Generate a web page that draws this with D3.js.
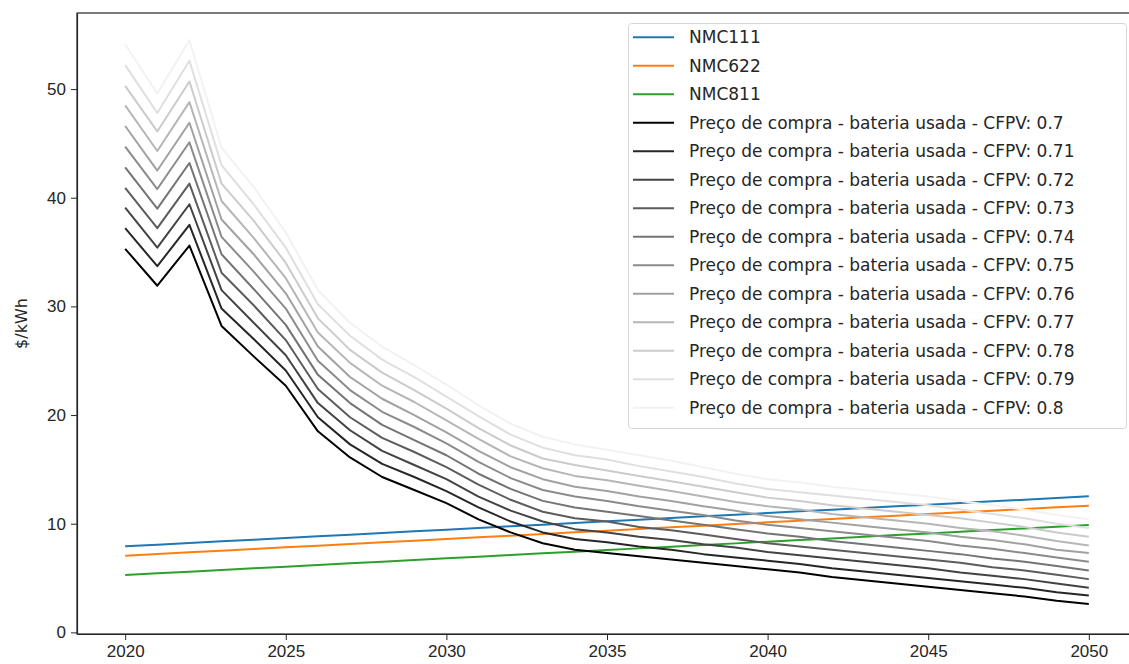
<!DOCTYPE html>
<html>
<head>
<meta charset="utf-8">
<script src="https://cdn.jsdelivr.net/npm/d3@7"></script>
<style>
  body { margin: 0; background: #fff; }
  svg { font-family: "DejaVu Sans", sans-serif; }
  .tick text { font-size: 17px; fill: #262626; }
  .tick line, .domain { stroke: #262626; }
</style>
</head>
<body>
<div id="chart"></div>
<script>
// years on the x axis
var years = d3.range(2020, 2051);

// new battery prices ($/kWh)
var nmc111 = [7.92, 8.07, 8.23, 8.38, 8.53, 8.69, 8.84, 8.99, 9.15, 9.30, 9.45, 9.61, 9.76, 9.91, 10.07, 10.22,
  10.37, 10.53, 10.68, 10.83, 10.99, 11.14, 11.29, 11.45, 11.60, 11.75, 11.91, 12.06, 12.21, 12.37, 12.52];
var nmc622 = [7.06, 7.21, 7.37, 7.52, 7.67, 7.83, 7.98, 8.13, 8.29, 8.44, 8.59, 8.75, 8.90, 9.05, 9.21, 9.36,
  9.51, 9.67, 9.82, 9.97, 10.13, 10.28, 10.43, 10.59, 10.74, 10.89, 11.05, 11.20, 11.35, 11.51, 11.66];
var nmc811 = [5.28, 5.43, 5.59, 5.74, 5.89, 6.05, 6.20, 6.35, 6.51, 6.66, 6.81, 6.97, 7.12, 7.27, 7.43, 7.58,
  7.73, 7.89, 8.04, 8.19, 8.35, 8.50, 8.65, 8.81, 8.96, 9.11, 9.27, 9.42, 9.57, 9.73, 9.88];

// purchase price of used battery for each CFPV
var cfpv = [0.7, 0.71, 0.72, 0.73, 0.74, 0.75, 0.76, 0.77, 0.78, 0.79, 0.8];
var used070 = [35.3, 31.9, 35.6, 28.2, 25.4, 22.7, 18.5, 16.1, 14.3, 13.1, 11.9, 10.4, 9.2, 8.2, 7.6, 7.3, 7.0, 6.7, 6.4, 6.1, 5.8, 5.5, 5.1, 4.8, 4.5, 4.2, 3.9, 3.6, 3.3, 2.9, 2.6];
var used071 = [37.2, 33.7, 37.5, 29.8, 27.0, 24.1, 19.8, 17.3, 15.5, 14.3, 13.0, 11.5, 10.2, 9.2, 8.6, 8.3, 7.9, 7.6, 7.2, 6.9, 6.6, 6.3, 5.9, 5.6, 5.3, 5.0, 4.7, 4.4, 4.1, 3.7, 3.4];
var used072 = [39.1, 35.4, 39.4, 31.5, 28.5, 25.5, 21.1, 18.6, 16.7, 15.4, 14.1, 12.5, 11.2, 10.2, 9.5, 9.2, 8.8, 8.5, 8.1, 7.8, 7.4, 7.1, 6.8, 6.5, 6.2, 5.9, 5.5, 5.2, 4.9, 4.5, 4.1];
var used073 = [40.9, 37.2, 41.3, 33.1, 30.1, 26.9, 22.4, 19.8, 17.9, 16.6, 15.2, 13.6, 12.2, 11.1, 10.5, 10.2, 9.7, 9.4, 9.0, 8.6, 8.2, 7.9, 7.6, 7.3, 7.0, 6.7, 6.4, 6.0, 5.7, 5.3, 4.9];
var used074 = [42.8, 39.0, 43.2, 34.8, 31.6, 28.3, 23.7, 21.1, 19.1, 17.7, 16.3, 14.6, 13.2, 12.1, 11.5, 11.1, 10.7, 10.3, 9.9, 9.5, 9.1, 8.8, 8.4, 8.1, 7.8, 7.5, 7.2, 6.8, 6.5, 6.1, 5.7];
var used075 = [44.7, 40.8, 45.1, 36.4, 33.2, 29.8, 25.0, 22.3, 20.3, 18.9, 17.4, 15.7, 14.2, 13.1, 12.5, 12.1, 11.6, 11.2, 10.8, 10.3, 9.9, 9.6, 9.3, 9.0, 8.7, 8.4, 8.0, 7.7, 7.3, 6.9, 6.5];
var used076 = [46.6, 42.5, 46.9, 38.0, 34.8, 31.2, 26.3, 23.5, 21.5, 20.0, 18.4, 16.7, 15.2, 14.1, 13.4, 13.0, 12.5, 12.1, 11.6, 11.2, 10.7, 10.4, 10.1, 9.8, 9.5, 9.2, 8.8, 8.5, 8.1, 7.6, 7.3];
var used077 = [48.5, 44.3, 48.8, 39.7, 36.3, 32.6, 27.6, 24.8, 22.7, 21.2, 19.5, 17.8, 16.2, 15.1, 14.4, 14.0, 13.5, 13.0, 12.5, 12.0, 11.6, 11.3, 10.9, 10.6, 10.3, 10.0, 9.6, 9.3, 8.9, 8.4, 8.0];
var used078 = [50.3, 46.1, 50.7, 41.3, 37.9, 34.0, 28.9, 26.0, 23.9, 22.3, 20.6, 18.8, 17.2, 16.0, 15.4, 14.9, 14.4, 13.9, 13.4, 12.9, 12.4, 12.1, 11.7, 11.4, 11.1, 10.8, 10.5, 10.1, 9.7, 9.2, 8.8];
var used079 = [52.2, 47.8, 52.6, 43.0, 39.4, 35.4, 30.2, 27.3, 25.1, 23.5, 21.7, 19.9, 18.2, 17.0, 16.3, 15.9, 15.3, 14.8, 14.3, 13.7, 13.2, 12.9, 12.6, 12.3, 12.0, 11.7, 11.3, 10.9, 10.5, 10.0, 9.6];
var used080 = [54.1, 49.6, 54.5, 44.6, 41.0, 36.8, 31.5, 28.5, 26.3, 24.6, 22.8, 20.9, 19.2, 18.0, 17.3, 16.8, 16.3, 15.8, 15.2, 14.6, 14.1, 13.8, 13.4, 13.1, 12.8, 12.5, 12.1, 11.7, 11.3, 10.8, 10.4];

var xTicks = [2020, 2025, 2030, 2035, 2040, 2045, 2050];
var yTicks = [0, 10, 20, 30, 40, 50];

// build series list
var series = [
  {label: "NMC111", values: nmc111, color: "#1f77b4"},
  {label: "NMC622", values: nmc622, color: "#ff7f0e"},
  {label: "NMC811", values: nmc811, color: "#2ca02c"}
];
var usedValues = [used070, used071, used072, used073, used074, used075, used076, used077, used078, used079, used080];
usedValues.forEach(function(v, i) {
  //grey gets lighter with CFPV
  var g = Math.round(255 * 0.95 * Math.pow(i / 10, 0.8));
  series.push({
    label: "Preço de compra - bateria usada - CFPV: " + cfpv[i],
    values: v,
    color: d3.rgb(g, g, g).formatHex()
  });
});

var svgWidth = 1129;
var svgHeight = 664;
var margin = {top: 13, right: -8, bottom: 30, left: 77};
var width = svgWidth - margin.left - margin.right;
var height = svgHeight - margin.top - margin.bottom;

var svg = d3.select("#chart")
  .append("svg")
  .attr("width", svgWidth)
  .attr("height", svgHeight);

var chartGroup = svg.append("g")
  .attr("transform", `translate(${margin.left}, ${margin.top})`);

var xScale = d3.scaleLinear()
  .domain([2018.5, 2051.5])
  .range([0, width]);

var yScale = d3.scaleLinear()
  .domain([-0.15, 57.0])
  .range([height, 0]);

// lines
var line = d3.line()
  .x((d, i) => xScale(years[i]))
  .y(d => yScale(d));

chartGroup.selectAll(".series")
  .data(series)
  .enter()
  .append("path")
  .attr("class", "series")
  .attr("fill", "none")
  .attr("stroke", d => d.color)
  .attr("stroke-width", 2)
  .attr("stroke-linejoin", "round")
  .attr("d", d => line(d.values));

// axes
var bottomAxis = d3.axisBottom(xScale).tickValues(xTicks).tickFormat(d3.format("d")).tickSize(6).tickPadding(5).tickSizeOuter(0);
var leftAxis = d3.axisLeft(yScale).tickValues(yTicks).tickSize(6).tickPadding(5).tickSizeOuter(0);

chartGroup.append("g")
  .attr("transform", `translate(0, ${height})`)
  .call(bottomAxis);

chartGroup.append("g")
  .call(leftAxis);

// frame (top + right spines)
chartGroup.append("rect")
  .attr("x", 0)
  .attr("y", 0)
  .attr("width", width)
  .attr("height", height)
  .attr("fill", "none")
  .attr("stroke", "#262626")
  .attr("stroke-width", 1.2);

chartGroup.selectAll(".domain").attr("stroke-width", 1.2);

// y label
svg.append("text")
  .attr("transform", `translate(21, ${margin.top + height / 2}) rotate(-90)`)
  .attr("text-anchor", "middle")
  .attr("dy", "0.35em")
  .attr("font-size", 16)
  .attr("fill", "#262626")
  .text("$/kWh");

// legend
var legend = svg.append("g");
legend.append("rect")
  .attr("x", 628.5)
  .attr("y", 23.5)
  .attr("width", 498)
  .attr("height", 405)
  .attr("rx", 3)
  .attr("fill", "#fff")
  .attr("fill-opacity", 0.8)
  .attr("stroke", "#d6d6d6");

var items = legend.selectAll(".item")
  .data(series)
  .enter()
  .append("g")
  .attr("class", "item")
  .attr("transform", (d, i) => `translate(633, ${37.3 + i * 28.5})`);

items.append("line")
  .attr("x1", 0)
  .attr("x2", 41)
  .attr("stroke", d => d.color)
  .attr("stroke-width", 2);

items.append("text")
  .attr("x", 56)
  .attr("dy", "0.35em")
  .attr("font-size", 17)
  .attr("fill", "#262626")
  .text(d => d.label);
</script>
</body>
</html>
